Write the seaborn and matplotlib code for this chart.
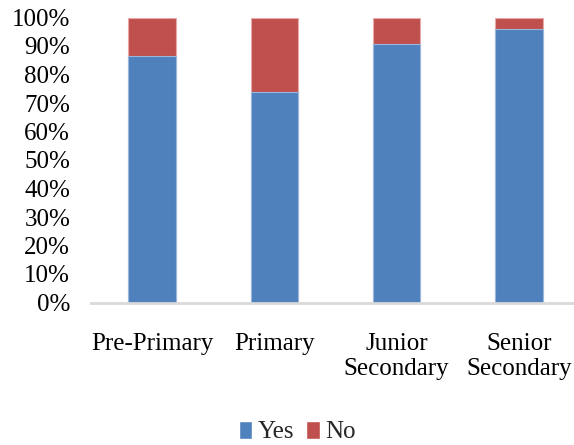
import matplotlib
matplotlib.use("Agg")
import matplotlib.pyplot as plt
from matplotlib.patches import Patch
from matplotlib.ticker import FuncFormatter
import seaborn as sns
import pandas as pd

# Share of responses per school level (percent)
levels = ["Pre-Primary", "Primary", "Junior\nSecondary", "Senior\nSecondary"]
yes_pct = [86.5, 74.0, 90.8, 95.8]
no_pct = [13.5, 26.0, 9.2, 4.2]

yes_color = "#4F81BD"
no_color = "#C0504D"

sns.set_theme(style="white")
plt.rcParams["font.family"] = ["Liberation Serif", "DejaVu Serif"]

df = pd.DataFrame({"level": levels, "Yes": yes_pct, "No": no_pct})
df["total"] = df["Yes"] + df["No"]

fig = plt.figure(figsize=(5.74, 4.45), dpi=100)
ax = fig.add_axes([91 / 574, 1 - 302.5 / 445, (580 - 91) / 574, (302.5 - 17.5) / 445])

# Stacked bars: full height in the "No" colour, "Yes" share drawn over it
sns.barplot(data=df, x="level", y="total", color=no_color, saturation=1,
            width=0.39, edgecolor="#e8a9a7", linewidth=0.8, ax=ax)
sns.barplot(data=df, x="level", y="Yes", color=yes_color, saturation=1,
            width=0.39, edgecolor="#9bb7dc", linewidth=0.8, ax=ax)

ax.set_ylim(0, 100)
ax.set_xlim(-0.5, 3.5)
ax.set_yticks(range(0, 101, 10))
ax.yaxis.set_major_formatter(FuncFormatter(lambda v, _: f"{int(v)}%"))
ax.set_xlabel("")
ax.set_ylabel("")
for side in ["top", "right", "left"]:
    ax.spines[side].set_visible(False)
ax.spines["bottom"].set_color("#d9d9d9")
ax.spines["bottom"].set_linewidth(2)
ax.tick_params(axis="y", length=0, pad=15, labelsize=18, colors="black")
ax.tick_params(axis="x", length=0, pad=22, labelsize=18, colors="black")
for lbl in ax.get_xticklabels():
    lbl.set_linespacing(1.15)

handles = [Patch(facecolor=yes_color, label="Yes"), Patch(facecolor=no_color, label="No")]
fig.legend(handles=handles, loc="center", bbox_to_anchor=(297 / 574, 1 - 432 / 445),
           ncol=2, frameon=False, fontsize=18, handlelength=0.55, handleheight=0.75,
           handletextpad=0.2, columnspacing=0.5, borderaxespad=0)

fig.savefig("out.png", dpi=100)
